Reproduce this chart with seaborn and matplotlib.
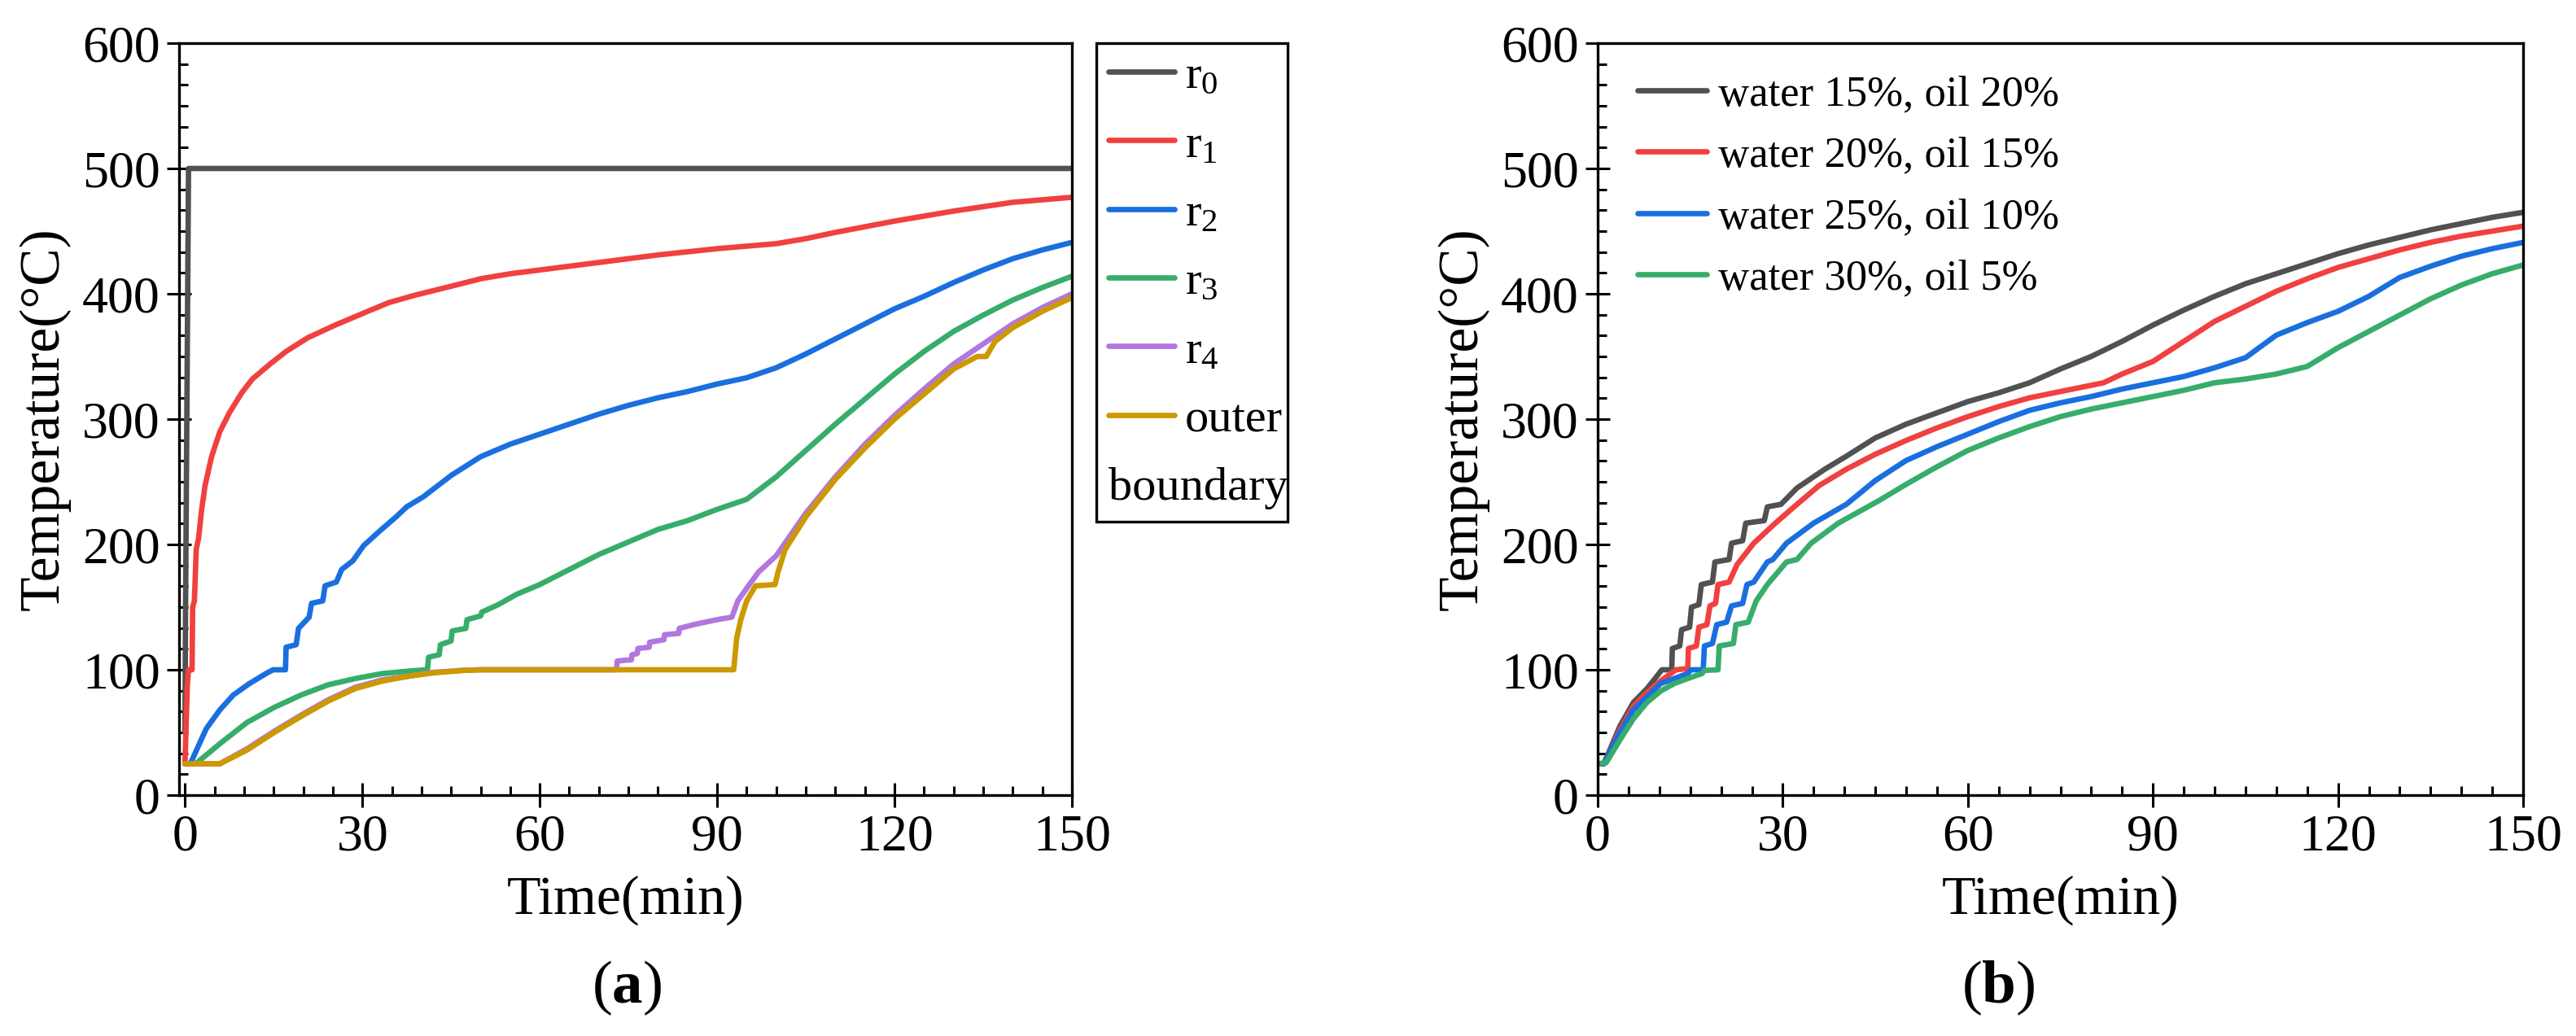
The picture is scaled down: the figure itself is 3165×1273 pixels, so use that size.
import matplotlib
matplotlib.use("Agg")
import matplotlib.pyplot as plt
from matplotlib.lines import Line2D
from matplotlib.ticker import MultipleLocator, AutoMinorLocator
import matplotlib.transforms as mtransforms
import seaborn as sns
import pandas as pd

# ---------------- data: panel (a) ----------------
r0_t = [0, 0.1, 0.6, 150]
r0_T = [50, 150, 500, 500]

r1_t = [0, 0.4, 0.6, 1.2, 1.3, 1.6, 1.9, 2.3, 2.8, 3.4, 4.5, 5.9, 7.5, 9.6, 11.4, 14.4, 17.1, 20.8,
        25.4, 30.4, 34.5, 39, 45, 50, 55, 60, 70, 80, 90, 95, 100, 105, 110, 120, 130, 140, 150]
r1_T = [25, 88, 100, 100, 150, 155, 196, 205, 227, 247, 270, 290, 305, 321, 332, 344, 354, 365,
        375, 385, 393, 399, 406, 412, 416, 419, 425, 431, 436, 438, 440, 444, 449, 458, 466, 473, 477]

r2_t = [0, 0.9, 3.6, 5.9, 8.2, 10.9, 13.7, 14.9, 17.0, 17.1, 18.8, 19.2, 21.0, 21.4, 23.3, 23.7, 25.6,
        26.5, 28.4, 30.2, 33, 35.7, 37.5, 40.3, 45, 50, 55, 60, 65, 70, 75, 80, 85, 90, 95, 100, 105,
        110, 115, 120, 125, 130, 135, 140, 145, 150]
r2_T = [25, 25, 53, 68, 80, 89, 97, 100, 100, 118, 120, 133, 142, 153, 155, 167, 170,
        180, 187, 199, 211, 222, 230, 238, 255, 270, 280, 288, 296, 304, 311, 317, 322, 328, 333, 341, 352,
        364, 376, 388, 398, 409, 419, 428, 435, 441]

r3_t = [0, 1.8, 5.9, 10.5, 15.1, 19.7, 24.2, 28.8, 33.4, 38, 41, 41.2, 43, 43.2, 45, 45.2, 47.5, 47.7,
        50, 50.2, 53, 56, 60, 65, 70, 75, 80, 85, 90, 95, 100, 105, 110, 115, 120, 125, 130, 135, 140,
        145, 150]
r3_T = [25, 25, 41, 58, 70, 80, 88, 93, 97, 99, 100, 110, 112, 120, 123, 131, 133, 140,
        143, 146, 152, 160, 168, 180, 192, 202, 212, 219, 228, 236, 254, 275, 296, 316, 336, 354, 370, 383, 395,
        405, 414]

r4_t = [0, 5.9, 10.5, 15.1, 19.7, 24.2, 28.8, 33.4, 38, 42, 47, 50, 60, 73, 73.1, 75.5, 75.6, 76.5, 76.6,
        78.5, 78.6, 81, 81.1, 83.5, 83.6, 86, 88, 90, 92.5, 93.5, 95, 97, 100, 105, 110, 115, 120, 125,
        130, 135, 140, 145, 150]
r4_T = [25, 25, 37, 51, 64, 76, 86, 92, 95, 98, 99.5, 100, 100, 100, 107, 108, 112, 113, 117,
        118, 122, 124, 128, 129, 133, 136, 138, 140, 142, 155, 165, 178, 191, 225, 254, 280, 303, 324,
        344, 360, 376, 389, 400]

outer_t = [0, 5.9, 10.5, 15.1, 19.7, 24.2, 28.8, 33.4, 38, 42, 47, 50, 60, 70, 80, 90, 92.8, 93.3, 94,
           95, 96.5, 99.8, 100.3, 101.5, 105, 110, 115, 120, 125, 130, 134, 135.5, 137, 140, 145, 150]
outer_T = [25, 25, 36, 50, 63, 75, 85, 91, 95, 97.5, 99.5, 100, 100, 100, 100, 100, 100, 125, 140,
           155, 167, 168, 178, 196, 222, 252, 277, 300, 320, 340, 350, 350, 362, 373, 386, 397]

labels_a = [r"r$_\mathrm{0}$", r"r$_\mathrm{1}$", r"r$_\mathrm{2}$", r"r$_\mathrm{3}$",
            r"r$_\mathrm{4}$", "outer", "boundary"]

# ---------------- data: panel (b) ----------------
w15_t = [0, 1, 3.6, 5.8, 8, 9.3, 10.4, 12, 12.1, 13.3, 13.6, 14.9, 15.2, 16.4, 16.8, 18.6, 19.0, 21.3,
         21.7, 23.5, 24, 27, 27.5, 29.7, 32.3, 36.8, 40.5, 45, 50, 55, 60, 65, 70, 75, 80, 85, 90, 95,
         100, 105, 110, 115, 120, 125, 130, 135, 140, 145, 150]
w15_T = [25, 25, 55, 74, 85, 93, 100, 100, 117, 119, 132, 134, 150, 152, 168, 170, 186, 188,
         201, 203, 217, 219, 230, 232, 245, 260, 271, 285, 296, 305, 314, 321, 329, 340, 350, 362, 375, 387,
         398, 408, 416, 424, 432, 439, 445, 451, 456, 461, 465]

w20_t = [0, 1, 3.6, 5.8, 8.0, 10.2, 12.4, 12.7, 14.6, 14.7, 16.0, 16.4, 17.7, 18.2, 19.1, 19.5, 21.3,
         22.6, 25.3, 28.8, 32.3, 35.9, 40.3, 45, 50, 55, 60, 65, 70, 75, 80, 82, 85, 90, 95, 100, 105,
         110, 115, 120, 125, 130, 135, 140, 145, 150]
w20_T = [25, 25, 52, 71, 82, 91, 99, 100, 101, 117, 119, 134, 136, 151, 153, 168, 170,
         184, 201, 217, 232, 247, 260, 272, 283, 293, 302, 310, 317, 322, 327, 329, 336, 346, 362, 378, 390,
         402, 412, 421, 428, 435, 441, 446, 450, 454]

w25_t = [0, 1, 3.6, 5.8, 10.2, 14.6, 15.1, 17.1, 17.3, 18.6, 19.3, 20.9, 21.7, 23.5, 24.2, 25.3, 27.5,
         28.4, 30.6, 35, 40.3, 45, 50, 55, 60, 65, 70, 75, 80, 85, 90, 95, 100, 105, 110, 115, 120, 125,
         130, 135, 140, 145, 150]
w25_T = [25, 25, 50, 68, 89, 97, 100, 100, 119, 121, 136, 138, 151, 153, 168, 170, 186,
         188, 201, 217, 232, 251, 267, 278, 288, 298, 307, 313, 318, 324, 329, 334, 341, 349, 367, 377, 386, 398,
         413, 422, 430, 436, 441]

w30_t = [0, 1.4, 3.6, 5.8, 8, 10.2, 12.4, 14.6, 16.9, 17.3, 19.5, 19.7, 22, 22.4, 24.4, 25.7, 27.5,
         30.6, 32.3, 34.6, 39, 45.6, 50, 55, 60, 65, 70, 75, 80, 85, 90, 95, 100, 105, 110, 115, 120, 125,
         130, 135, 140, 145, 150]
w30_T = [25, 26, 44, 61, 74, 83, 89, 93, 97, 99.5, 100, 119, 121, 136, 138, 155, 168,
         186, 188, 201, 217, 235, 248, 262, 275, 285, 294, 302, 308, 313, 318, 323, 329, 332, 336, 342, 357, 370,
         383, 396, 407, 416, 423]

labels_b = ["water 15%, oil 20%", "water 20%, oil 15%", "water 25%, oil 10%", "water 30%, oil 5%"]

colors_a = ["#515151", "#F14040", "#1A6FDF", "#37AD6B", "#B177DE", "#CC9900"]
colors_b = ["#515151", "#F14040", "#1A6FDF", "#37AD6B"]

# ---------------- style ----------------
sns.set_theme(style="ticks")
plt.rcParams["font.family"] = ["Liberation Serif", "DejaVu Serif"]
plt.rcParams["mathtext.fontset"] = "custom"
plt.rcParams["mathtext.rm"] = "Liberation Serif"
plt.rcParams["mathtext.it"] = "Liberation Serif:italic"
plt.rcParams["mathtext.bf"] = "Liberation Serif:bold"
plt.rcParams["axes.edgecolor"] = "black"
plt.rcParams["xtick.color"] = "black"
plt.rcParams["ytick.color"] = "black"
plt.rcParams["text.color"] = "black"
plt.rcParams["axes.labelcolor"] = "black"

W, H = 3165, 1273
fig = plt.figure(figsize=(W / 100, H / 100), dpi=100)
fig.patch.set_facecolor("white")

ax_a = fig.add_axes([220 / W, 1 - 977 / H, 1097 / W, 924 / H])
ax_b = fig.add_axes([1963 / W, 1 - 977 / H, 1137 / W, 924 / H])

LW = 4.8
series_a = [(r0_t, r0_T), (r1_t, r1_T), (r2_t, r2_T), (r3_t, r3_T), (r4_t, r4_T), (outer_t, outer_T)]
for (tt, TT), c in zip(series_a, colors_a):
    df = pd.DataFrame({"t": tt, "T": TT})
    sns.lineplot(data=df, x="t", y="T", ax=ax_a, color=c, linewidth=LW, sort=False,
                 estimator=None, legend=False)

series_b = [(w15_t, w15_T), (w20_t, w20_T), (w25_t, w25_T), (w30_t, w30_T)]
for (tt, TT), c in zip(series_b, colors_b):
    df = pd.DataFrame({"t": tt, "T": TT})
    sns.lineplot(data=df, x="t", y="T", ax=ax_b, color=c, linewidth=LW, sort=False,
                 estimator=None, legend=False)

FS = 46
for ax, xl in ((ax_a, (-1, 150)), (ax_b, (0, 150))):
    ax.set_xlim(*xl)
    ax.set_ylim(0, 600)
    ax.xaxis.set_major_locator(MultipleLocator(30))
    ax.xaxis.set_minor_locator(MultipleLocator(5))
    ax.yaxis.set_major_locator(MultipleLocator(100))
    ax.yaxis.set_minor_locator(AutoMinorLocator(6))
    ax.tick_params(which="major", direction="inout", length=21.6, width=2.2,
                   labelsize=FS, pad=6, top=False, right=False)
    ax.tick_params(which="minor", direction="in", length=8, width=2.2, top=False, right=False)
    for s in ax.spines.values():
        s.set_visible(True)
        s.set_linewidth(2.4)
        s.set_color("black")
    ax.set_xlabel("Time(min)", fontsize=49, labelpad=12)
    ax.set_ylabel("Temperature(°C)", fontsize=50, labelpad=10)
    ax.set_facecolor("white")
    ax.grid(False)

# legend (a)
LFS_A = 42
HL_A, HTP_A = 1.4, 0.22
handles_a = [Line2D([], [], color=c, lw=LW) for c in colors_a] + [Line2D([], [], color="none", lw=0)]
leg_a = ax_a.legend(handles_a, labels_a, loc="upper left",
                    bbox_to_anchor=(1347 / W, 1 - 53 / H, 235 / W, 0), bbox_transform=fig.transFigure,
                    mode="expand", borderaxespad=0, fontsize=LFS_A, frameon=True, fancybox=False,
                    edgecolor="black", framealpha=1, handlelength=HL_A, handletextpad=HTP_A,
                    borderpad=0.25, labelspacing=0.54)
leg_a.get_frame().set_linewidth(2.4)
shift = (HL_A + HTP_A) * LFS_A * 100 / 72
tb = leg_a.get_texts()[-1]
tb.set_transform(tb.get_transform() + mtransforms.Affine2D().translate(-shift, 0))

# legend (b)
handles_b = [Line2D([], [], color=c, lw=LW) for c in colors_b]
ax_b.legend(handles_b, labels_b, loc="upper left", bbox_to_anchor=(1991 / W, 1 - 71 / H),
            bbox_transform=fig.transFigure, borderaxespad=0, frameon=False, fontsize=38,
            handlelength=1.6, handletextpad=0.28, labelspacing=0.52)

# panel labels
fig.text(770 / W, 1 - 1214 / H, r"($\mathbf{a}$)", ha="center", va="center", fontsize=54)
fig.text(2455 / W, 1 - 1214 / H, r"($\mathbf{b}$)", ha="center", va="center", fontsize=54)

fig.savefig("out.png", dpi=100, facecolor="white")
